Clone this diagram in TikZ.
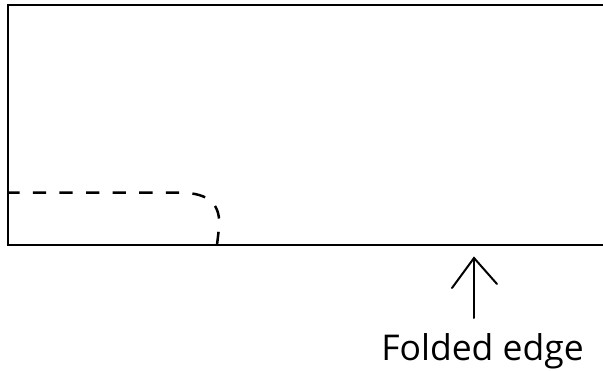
\documentclass[tikz,border=0pt]{standalone}
\usepackage{fontspec}
\setmainfont{Open Sans}
\begin{document}
\begin{tikzpicture}[x=1pt,y=-1pt,
  edge/.style={line width=2.5pt},
  fold/.style={line width=2.5pt, dash pattern=on 13.3pt off 13.3pt},
  pointer/.style={line width=2pt, line cap=round, line join=miter},
  lbl/.style={inner sep=0pt, anchor=base, font=\fontsize{35.5}{40}\selectfont}]
\useasboundingbox (0,0) rectangle (603,370);
\coordinate (tl) at (8,5);
\coordinate (bl) at (8,245);
\coordinate (tr) at (604,5);
\coordinate (br) at (604,245);
\draw[edge] (tr) -- (tl) -- (bl) -- (br);
\coordinate (fs) at (8,192.7);
\coordinate (fe) at (217,245);
\draw[fold] (fe) -- (219,228) .. controls (221,205) and (210,192.7) .. (180,192.7) -- (fs);
\coordinate (tip) at (474,258);
\coordinate (tail) at (474,318);
\draw[pointer] (tail) -- (tip);
\draw[pointer] ([shift={(-22,30)}]tip) -- (tip) -- ([shift={(23,26)}]tip);
\node[lbl] (label) at (482.5,360) {Folded edge};
\end{tikzpicture}
\end{document}
